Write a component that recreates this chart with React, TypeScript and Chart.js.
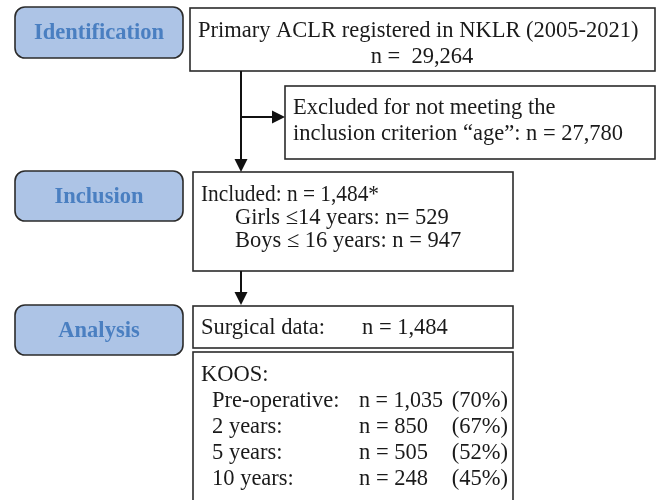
import React, { useEffect, useRef } from "react";
import { Chart, registerables } from "chart.js";

Chart.register(...registerables);

// ---- content ----
const stageLabels = ["Identification", "Inclusion", "Analysis"];
const identLines = ["Primary ACLR registered in NKLR (2005-2021)", "n =  29,264"];
const excludedLines = ["Excluded for not meeting the", "inclusion criterion \u201cage\u201d: n = 27,780"];
const includedLines = ["Included: n = 1,484*", "Girls \u226414 years: n= 529", "Boys \u2264 16 years: n = 947"];
const surgicalLabel = "Surgical data:";
const surgicalValue = "n = 1,484";
const koosTitle = "KOOS:";
const koosLabels = ["Pre-operative:", "2 years:", "5 years:", "10 years:"];
const koosCounts = ["n = 1,035", "n = 850", "n = 505", "n = 248"];
const koosPercents = ["(70%)", "(67%)", "(52%)", "(45%)"];

// ---- layout (chart coordinate space 0..660 x 0..500) ----
const stageBoxes = [
  { x0: 15, y0: 7, x1: 183, y1: 58 },
  { x0: 15, y0: 171, x1: 183, y1: 221 },
  { x0: 15, y0: 305, x1: 183, y1: 355 },
];

const SERIF = "'Liberation Serif', 'Times New Roman', serif";
const BODY = `22.5px ${SERIF}`;

const flowPlugin = {
  id: "flow",
  afterDraw(chart: any) {
    const ctx: CanvasRenderingContext2D = chart.ctx;
    const xs = chart.scales.x;
    const ys = chart.scales.y;
    const X = (v: number) => xs.getPixelForValue(v);
    const Y = (v: number) => ys.getPixelForValue(v);

    ctx.save();
    // stage boxes
    stageBoxes.forEach((b, i) => {
      const x0 = X(b.x0), y0 = Y(b.y0), x1 = X(b.x1), y1 = Y(b.y1);
      ctx.beginPath();
      (ctx as any).roundRect(x0, y0, x1 - x0, y1 - y0, 10);
      ctx.fillStyle = "#adc4e6";
      ctx.fill();
      ctx.lineWidth = 1.6;
      ctx.strokeStyle = "#2b2b2b";
      ctx.stroke();
      ctx.fillStyle = "#4a7fc1";
      ctx.font = `bold 22.5px ${SERIF}`;
      ctx.textAlign = "center";
      ctx.textBaseline = "middle";
      ctx.fillText(stageLabels[i], (x0 + x1) / 2, (y0 + y1) / 2 + 1);
    });

    const rect = (x0: number, y0: number, x1: number, y1: number) => {
      ctx.lineWidth = 1.6;
      ctx.strokeStyle = "#2b2b2b";
      ctx.strokeRect(X(x0), Y(y0), X(x1) - X(x0), Y(y1) - Y(y0));
    };

    rect(190, 8, 655, 71);
    rect(285, 86, 655, 159);
    rect(193, 172, 513, 271);
    rect(193, 306, 513, 348);
    rect(193, 352, 513, 520);

    // arrows
    const line = (ax: number, ay: number, bx: number, by: number) => {
      ctx.beginPath();
      ctx.moveTo(X(ax), Y(ay));
      ctx.lineTo(X(bx), Y(by));
      ctx.lineWidth = 2;
      ctx.strokeStyle = "#111";
      ctx.stroke();
    };
    const headDown = (x: number, tip: number) => {
      ctx.beginPath();
      ctx.moveTo(X(x), Y(tip));
      ctx.lineTo(X(x - 6.5), Y(tip - 13));
      ctx.lineTo(X(x + 6.5), Y(tip - 13));
      ctx.closePath();
      ctx.fillStyle = "#111";
      ctx.fill();
    };
    const headRight = (tip: number, y: number) => {
      ctx.beginPath();
      ctx.moveTo(X(tip), Y(y));
      ctx.lineTo(X(tip - 13), Y(y - 6.5));
      ctx.lineTo(X(tip - 13), Y(y + 6.5));
      ctx.closePath();
      ctx.fillStyle = "#111";
      ctx.fill();
    };
    line(241, 71, 241, 162);
    headDown(241, 172);
    line(241, 117, 275, 117);
    headRight(285, 117);
    line(241, 271, 241, 295);
    headDown(241, 305);

    // texts
    ctx.fillStyle = "#1a1a1a";
    ctx.font = BODY;
    ctx.textBaseline = "alphabetic";
    ctx.textAlign = "left";
    ctx.fillText(identLines[0], X(198), Y(37), 447);
    ctx.textAlign = "center";
    ctx.fillText(identLines[1], X(422), Y(63));
    ctx.textAlign = "left";
    ctx.fillText(excludedLines[0], X(293), Y(114));
    ctx.fillText(excludedLines[1], X(293), Y(140));
    ctx.fillText(includedLines[0], X(201), Y(201), 178);
    ctx.fillText(includedLines[1], X(235), Y(224));
    ctx.fillText(includedLines[2], X(235), Y(247));
    ctx.fillText(surgicalLabel, X(201), Y(334));
    ctx.fillText(surgicalValue, X(362), Y(334));
    ctx.fillText(koosTitle, X(201), Y(381));
    koosLabels.forEach((l, i) => {
      const by = 407 + i * 26;
      ctx.textAlign = "left";
      ctx.fillText(l, X(212), Y(by));
      ctx.fillText(koosCounts[i], X(359), Y(by), 84);
      ctx.textAlign = "right";
      ctx.fillText(koosPercents[i], X(508), Y(by));
    });
    ctx.restore();
  },
};

export default function App() {
  const ref = useRef<HTMLCanvasElement>(null);
  useEffect(() => {
    document.body.style.margin = "0";
    const chart = new Chart(ref.current!, {
      type: "scatter",
      data: { datasets: [{ data: [], pointRadius: 0 }] },
      options: {
        animation: false,
        responsive: false,
        layout: { padding: 0 },
        plugins: { legend: { display: false }, tooltip: { enabled: false } },
        scales: {
          x: { type: "linear", min: 0, max: 660, display: false },
          y: { type: "linear", min: 0, max: 500, reverse: true, display: false },
        },
      },
      plugins: [flowPlugin],
    });
    return () => chart.destroy();
  }, []);
  return (
    <div style={{ width: 660, height: 500, background: "#fff" }}>
      <canvas ref={ref} width={660} height={500} style={{ display: "block" }} />
    </div>
  );
}
